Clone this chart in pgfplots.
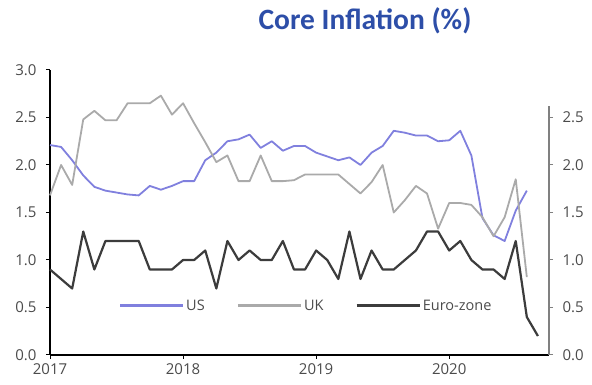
\documentclass[border=0pt]{standalone}
\usepackage{pgfplots}
\pgfplotsset{compat=1.18}
\usepackage{pgfplotstable}
\usepackage{fontspec}
\setmainfont{Carlito}
\newfontfamily\osans{Open Sans}
\definecolor{usc}{RGB}{128,128,222}
\definecolor{ukc}{RGB}{170,170,170}
\definecolor{euc}{RGB}{60,60,60}
\definecolor{titlec}{RGB}{45,78,168}
\definecolor{tickc}{RGB}{75,75,75}
\pgfplotstableread{
m us uk eu
0 2.21 1.68 0.9
1 2.19 2.00 0.8
2 2.05 1.79 0.7
3 1.89 2.48 1.3
4 1.77 2.57 0.9
5 1.73 2.47 1.2
6 1.71 2.47 1.2
7 1.69 2.65 1.2
8 1.68 2.65 1.2
9 1.78 2.65 0.9
10 1.74 2.73 0.9
11 1.78 2.53 0.9
12 1.83 2.65 1.0
13 1.83 2.44 1.0
14 2.05 2.24 1.1
15 2.13 2.03 0.7
16 2.25 2.10 1.2
17 2.27 1.83 1.0
18 2.32 1.83 1.1
19 2.18 2.10 1.0
20 2.25 1.83 1.0
21 2.15 1.83 1.2
22 2.20 1.84 0.9
23 2.20 1.90 0.9
24 2.13 1.90 1.1
25 2.09 1.90 1.0
26 2.05 1.90 0.8
27 2.08 1.80 1.3
28 2.00 1.70 0.8
29 2.13 1.82 1.1
30 2.20 2.00 0.9
31 2.36 1.50 0.9
32 2.34 1.63 1.0
33 2.31 1.78 1.1
34 2.31 1.70 1.3
35 2.25 1.33 1.3
36 2.26 1.60 1.1
37 2.36 1.60 1.2
38 2.10 1.58 1.0
39 1.44 1.45 0.9
40 1.26 1.25 0.9
41 1.20 1.45 0.8
42 1.52 1.85 1.2
43 1.73 0.82 0.4
44 nan nan 0.2
}\datatable
\begin{document}
\begin{tikzpicture}
\useasboundingbox (0,0) rectangle (592pt,385pt);
\node[font=\fontsize{29.5}{31}\selectfont\bfseries, text=titlec, anchor=center] at (365pt,364pt) {Core Inflation (\%)};
\begin{axis}[at={(50pt,30pt)}, anchor=south west, scale only axis, width=499pt, height=285pt,
  xmin=0, xmax=45, ymin=0, ymax=3,
  axis x line*=bottom, axis y line*=left,
  x axis line style={black, line width=1.6pt, -},
  y axis line style={black, line width=1.6pt, -},
  xtick={0,12,24,36}, xticklabels={2017,2018,2019,2020},
  ytick={0,0.5,1,1.5,2,2.5,3},
  yticklabel style={/pgf/number format/fixed, /pgf/number format/fixed zerofill, /pgf/number format/precision=1, xshift=-6pt},
  xticklabel style={yshift=-1pt},
  /pgf/number format/assume math mode=true,
  tick label style={font=\osans\fontsize{15}{17}\selectfont, text=tickc},
  tick align=outside, major tick length=4pt,
  tick style={black, line width=1pt},
  unbounded coords=jump,
  clip=false,
  legend style={at={(axis cs:23.1,0.52)}, anchor=center, draw=none, fill=none, legend columns=3,
    font=\osans\fontsize{14.5}{17}\selectfont, text=tickc,
    /tikz/every odd column/.append style={column sep=0pt},
    /tikz/every even column/.append style={column sep=30pt}},
  legend cell align=left,
  legend image code/.code={\draw[mark repeat=2,mark phase=2,#1] plot coordinates {(0pt,0pt) (31pt,0pt) (63pt,0pt)};},
  legend image post style={line width=2.3pt},
]
\addplot[usc, line width=1.8pt, line join=round] table[x=m, y=us] {\datatable};
\addlegendentry{US}
\addplot[ukc, line width=1.8pt, line join=round] table[x=m, y=uk] {\datatable};
\addlegendentry{UK}
\addplot[euc, line width=2.2pt, line join=round] table[x=m, y=eu] {\datatable};
\addlegendentry{Euro-zone}
\end{axis}
\begin{axis}[at={(50pt,30pt)}, anchor=south west, scale only axis, width=499pt, height=285pt,
  xmin=0, xmax=45, ymin=0, ymax=3,
  axis y line*=right, hide x axis,
  y axis line style={draw=none},
  ytick={0,0.5,1,1.5,2,2.5},
  yticklabel style={/pgf/number format/fixed, /pgf/number format/fixed zerofill, /pgf/number format/precision=1, xshift=6pt},
  /pgf/number format/assume math mode=true,
  tick label style={font=\osans\fontsize{15}{17}\selectfont, text=tickc},
  tick align=outside, major tick length=4pt,
  tick style={gray, line width=1pt},
  clip=false,
]
\draw[gray, line width=1.2pt] (axis cs:45,0) -- (axis cs:45,2.62);
\end{axis}
\end{tikzpicture}
\end{document}
